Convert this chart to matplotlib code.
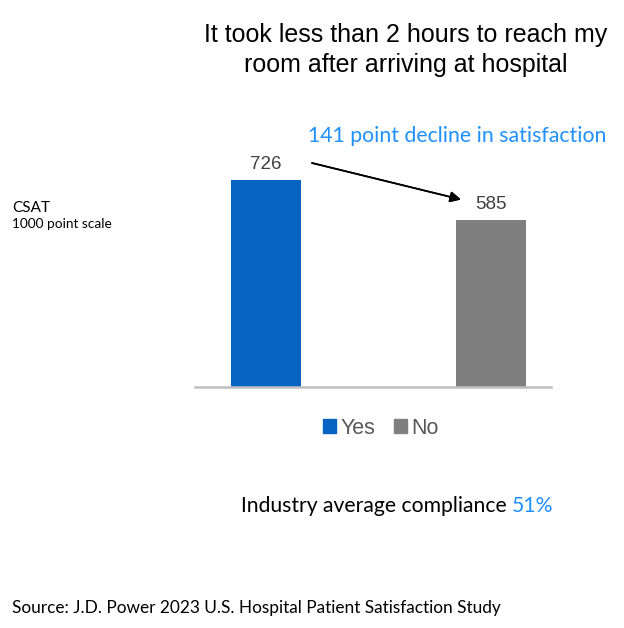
import matplotlib.pyplot as plt
from matplotlib.patches import Patch

# data
categories = ['Yes', 'No']
csat = [726, 585]
bar_colors = ['#0563C1', '#7F7F7F']
title = "It took less than 2 hours to reach my\nroom after arriving at hospital"
callout = "141 point decline in satisfaction"
compliance = "51%"

W, H = 624, 628
fig = plt.figure(figsize=(W / 100, H / 100), dpi=100)

def fx(px):
    return px / W

def fy(py):
    return 1 - py / H

# axes: baseline at y=386.5px, x from 195 to 551 px
ymax = 800
ax = fig.add_axes([fx(195), fy(386.5), fx(356), (ymax * 206.5 / 726) / H])
x = [0, 1]
ax.bar(x, csat, width=0.311, color=bar_colors, zorder=2)
ax.set_xlim(-0.316, 1.267)
ax.set_ylim(0, ymax)
for s in ['top', 'right', 'left']:
    ax.spines[s].set_visible(False)
ax.spines['bottom'].set_color('#BFBFBF')
ax.spines['bottom'].set_linewidth(1.8)
ax.set_xticks([])
ax.set_yticks([])
ax.patch.set_alpha(0)

for xi, v in zip(x, csat):
    ax.text(xi, v + 55, str(v), ha='center', va='center', fontsize=13.5,
            color='#404040', family='Liberation Sans')

# title
fig.text(fx(406), fy(50), title, ha='center', va='center', fontsize=18,
         family='Liberation Sans', color='black', linespacing=1.3)

# callout + arrow
fig.text(fx(457), fy(136), callout, ha='center', va='center', fontsize=15.3,
         family='Lato', color='#1E90FF')
fig.add_artist(plt.annotate('', xy=(fx(461), fy(199.5)), xytext=(fx(312), fy(163)),
                            xycoords='figure fraction', textcoords='figure fraction',
                            arrowprops=dict(arrowstyle='-|>', color='black', lw=1.2,
                                            mutation_scale=16, shrinkA=0, shrinkB=0)))

# y-axis label
fig.text(fx(12), fy(208), 'CSAT', ha='left', va='center', fontsize=11, family='Lato')
fig.text(fx(12), fy(224), '1000 point scale', ha='left', va='center', fontsize=9.8, family='Lato')

# legend
handles = [Patch(color=c, label=l) for c, l in zip(bar_colors, categories)]
fig.legend(handles=handles, loc='center', bbox_to_anchor=(fx(381), fy(428)), ncol=2,
           frameon=False, handlelength=0.6, handleheight=0.6, handletextpad=0.2,
           columnspacing=0.9, prop={'family': 'Liberation Sans', 'size': 15.5},
           labelcolor='#595959')

# compliance note
fig.text(fx(507), fy(506), 'Industry average compliance', ha='right', va='center',
         fontsize=15.2, family='Lato', color='black')
fig.text(fx(512), fy(506), compliance, ha='left', va='center',
         fontsize=15.2, family='Lato', color='#1E90FF')

# source
fig.text(fx(12), fy(608), 'Source: J.D. Power 2023 U.S. Hospital Patient Satisfaction Study',
         ha='left', va='center', fontsize=12.4, family='Lato', color='black')

fig.savefig('out.png', dpi=100, facecolor='white')
